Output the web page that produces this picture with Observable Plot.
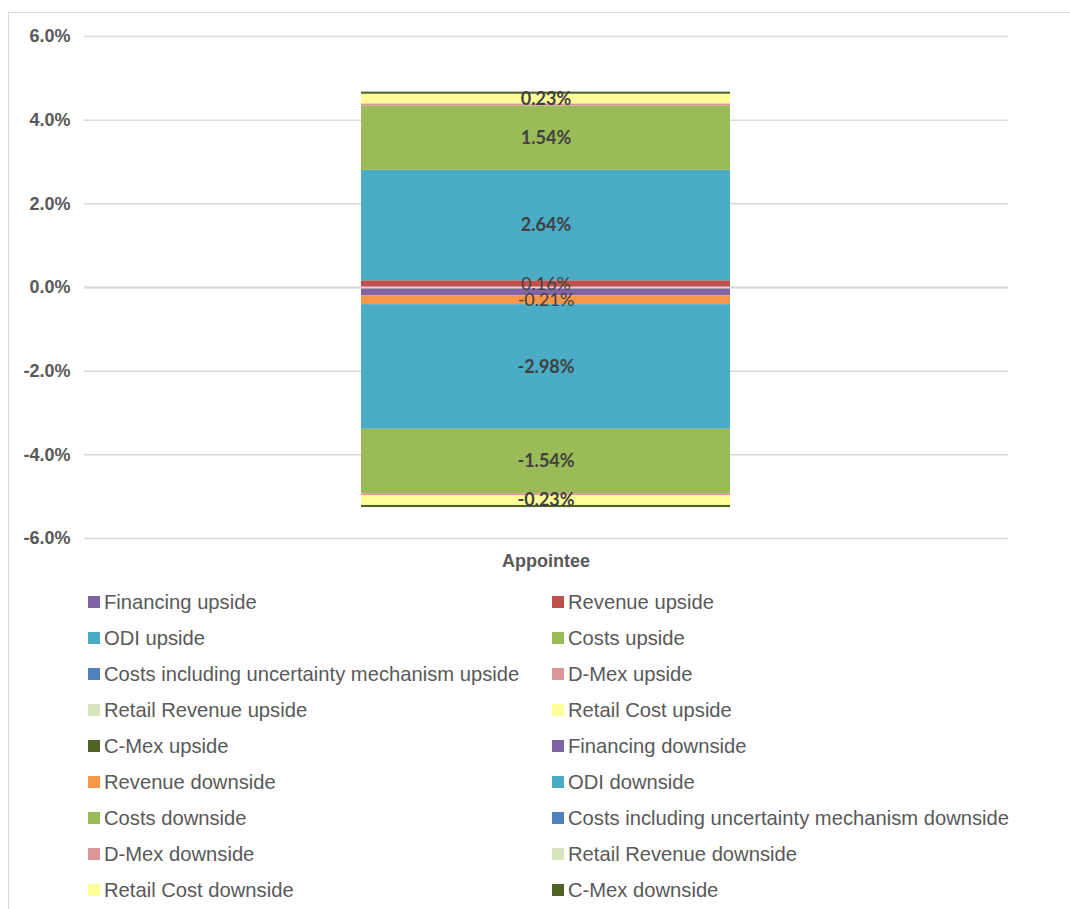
<!DOCTYPE html>
<html>
<head>
<meta charset="utf-8">
<script src="https://cdn.jsdelivr.net/npm/d3@7"></script>
<script src="https://cdn.jsdelivr.net/npm/@observablehq/plot@0.6"></script>
<style>
  html, body { margin: 0; padding: 0; background: #fff; overflow: hidden; }
  #wrap { position: relative; width: 1070px; height: 909px; font-family: "Liberation Sans", Arial, sans-serif; }
  #frame { position: absolute; left: 8px; top: 12px; width: 1080px; height: 920px; border: 1.5px solid #d9d9d9; box-sizing: border-box; }
  #chart { position: absolute; left: 0; top: 0; }
  #legend { position: absolute; left: 0; top: 584px; width: 1070px; }
  .item { position: absolute; height: 36px; display: flex; align-items: center; font-size: 20.2px; color: #595959; white-space: nowrap; }
  .sw { width: 12px; height: 12px; margin-right: 4px; flex: none; }
</style>
</head>
<body>
<div id="wrap">
  <div id="frame"></div>
  <div id="chart"></div>
  <div id="legend"></div>
</div>
<script>
// Category on the x axis
const categories = ["Appointee"];

// Series in stacking order (upside first, then downside)
const seriesNames = [
  "Financing upside", "Revenue upside", "ODI upside", "Costs upside",
  "Costs including uncertainty mechanism upside", "D-Mex upside",
  "Retail Revenue upside", "Retail Cost upside", "C-Mex upside",
  "Financing downside", "Revenue downside", "ODI downside", "Costs downside",
  "Costs including uncertainty mechanism downside", "D-Mex downside",
  "Retail Revenue downside", "Retail Cost downside", "C-Mex downside"
];

// Return on regulated equity impact, in percentage points
const seriesValues = [
  0, 0.16, 2.64, 1.54, 0, 0.05, 0, 0.23, 0.05,
  -0.20, -0.21, -2.98, -1.54, 0, -0.05, 0, -0.23, -0.05
];

const seriesColors = [
  "#8064A2", "#C0504D", "#4BACC6", "#9BBB59", "#4F81BD", "#D99694",
  "#D7E4BD", "#FFFF99", "#4F6228",
  "#8064A2", "#F79646", "#4BACC6", "#9BBB59", "#4F81BD", "#D99694",
  "#D7E4BD", "#FFFF99", "#4F6228"
];

// Series whose segments carry a value label
const boldLabelSeries = [
  "ODI upside", "Costs upside", "Retail Cost upside",
  "ODI downside", "Costs downside", "Retail Cost downside"
];
const plainLabelSeries = ["Revenue upside", "Revenue downside"];

const yTicks = [-6, -4, -2, 0, 2, 4, 6];

const rows = seriesNames.map((s, i) => ({category: categories[0], series: s, value: seriesValues[i]}));
const pct = v => v.toFixed(2) + "%";
const tickPct = v => v.toFixed(1) + "%";

const chart = Plot.plot({
  width: 1070,
  height: 584,
  marginLeft: 84,
  marginRight: 62,
  marginTop: 36,
  marginBottom: 46,
  style: {fontFamily: "'Liberation Sans', Arial, sans-serif", color: "#595959", background: "transparent"},
  x: {domain: categories, padding: 0.4286, label: null},
  y: {domain: [-6, 6], label: null},
  color: {domain: seriesNames, range: seriesColors},
  marks: [
    Plot.gridY(yTicks, {stroke: "#d9d9d9", strokeOpacity: 1, strokeWidth: 1.5}),
    Plot.axisY(yTicks, {tickSize: 0, tickPadding: 14, fontSize: 18, fontWeight: "bold", tickFormat: tickPct, label: null}),
    Plot.axisX({tickSize: 0, tickPadding: 16, fontSize: 18, fontWeight: "bold", label: null}),
    Plot.barY(rows, {x: "category", y: "value", fill: "series"}),
    Plot.ruleY([0], {stroke: "#d9d9d9", strokeWidth: 2}),
    Plot.text(rows, Plot.stackY({
      x: "category", y: "value",
      text: d => boldLabelSeries.includes(d.series) ? pct(d.value) : null,
      fill: "#404040", fontSize: 18, fontWeight: "bold", fontFamily: "Lato, 'Open Sans', sans-serif"
    })),
    Plot.text(rows, Plot.stackY({
      x: "category", y: "value",
      text: d => plainLabelSeries.includes(d.series) ? pct(d.value) : null,
      fill: "#404040", fontSize: 18, fontFamily: "Lato, 'Open Sans', sans-serif"
    }))
  ]
});
document.getElementById("chart").appendChild(chart);

// Two-column legend, filled row by row
const legend = document.getElementById("legend");
seriesNames.forEach((name, i) => {
  const item = document.createElement("div");
  item.className = "item";
  item.style.left = (i % 2 === 0 ? 88 : 552) + "px";
  item.style.top = (Math.floor(i / 2) * 36) + "px";
  const sw = document.createElement("span");
  sw.className = "sw";
  sw.style.background = seriesColors[i];
  const label = document.createElement("span");
  label.textContent = name;
  item.appendChild(sw);
  item.appendChild(label);
  legend.appendChild(item);
});
</script>
</body>
</html>
